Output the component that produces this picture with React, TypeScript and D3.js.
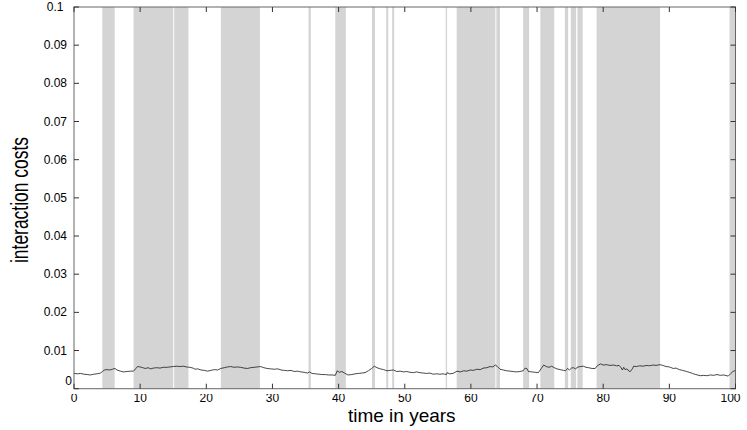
import React from "react";
import { scaleLinear, line, range } from "d3";

// shaded periods [start, end] in years
const bandStarts = [4.28, 9.0, 15.15, 22.2, 35.45, 39.5, 45.05, 47.2, 48.1, 56.2, 57.85, 63.85, 67.9, 70.5, 74.2, 75.1, 76.1, 79.0, 99.1];
const bandEnds = [6.15, 15.0, 17.3, 28.1, 35.8, 41.1, 45.5, 47.5, 48.4, 56.4, 63.7, 64.4, 68.8, 72.6, 74.7, 75.9, 76.9, 88.6, 100];

// interaction costs time series
const times = [
  0, 0.5, 1, 1.5, 2, 2.5, 3, 3.5, 4, 4.3, 4.6, 5, 5.4, 5.8, 6.2, 6.5, 7, 7.5, 8, 8.5,
  9, 9.3, 9.6, 10, 10.4, 10.8, 11.2, 11.6, 12, 12.5, 13, 13.5, 14, 14.5, 15, 15.5, 16, 16.5, 17, 17.5,
  18, 18.3, 18.7, 19.2, 19.7, 20.2, 20.7, 21.2, 21.7, 22.2, 22.7, 23.2, 23.7, 24.2, 24.7, 25.2, 25.7, 26.2, 26.7, 27.2,
  27.7, 28.2, 28.7, 29.2, 29.7, 30.3, 30.8, 31.3, 31.8, 32.3, 32.8, 33.3, 33.8, 34.3, 34.8, 35.3, 35.6, 36, 36.5, 37,
  37.5, 38, 38.5, 39, 39.5, 39.8, 40.1, 40.5, 40.9, 41.4, 42, 42.5, 43, 43.5, 44, 44.5, 45, 45.4, 45.8, 46.3,
  46.8, 47.3, 47.8, 48.3, 48.8, 49.3, 49.8, 50.3, 50.8, 51.3, 51.8, 52.3, 52.8, 53.3, 53.8, 54.3, 54.8, 55.3, 55.8, 56.3,
  56.4, 56.8, 57.3, 57.9, 58.4, 58.9, 59.4, 59.9, 60.4, 60.9, 61.4, 61.9, 62.4, 62.9, 63.3, 63.7, 64, 64.4, 64.9, 65.4,
  65.9, 66.4, 66.9, 67.4, 67.9, 68.2, 68.5, 68.7, 69.2, 69.7, 70.2, 70.6, 71.0, 71.4, 71.8, 72.2, 72.6, 73, 73.5, 74,
  74.3, 74.6, 74.9, 75.2, 75.5, 75.8, 76.2, 76.6, 77, 77.4, 77.8, 78.3, 78.8, 79.1, 79.6, 80, 80.5, 81, 81.6, 82,
  82.4, 82.7, 82.9, 83.1, 83.3, 83.6, 83.9, 84.1, 84.4, 84.6, 85, 85.5, 86, 86.6, 87, 87.5, 88, 88.6, 89, 89.5,
  90, 90.6, 91, 91.5, 92, 92.6, 93, 93.5, 94, 94.7, 95.2, 95.7, 96.2, 96.7, 97.2, 97.7, 98.2, 98.9, 99.3, 99.6, 100,
];
const costs = [
  0.0040, 0.0039, 0.0040, 0.0038, 0.0037, 0.0036, 0.0038, 0.0039, 0.0041, 0.0045, 0.0049, 0.0050, 0.0049, 0.0051, 0.0053, 0.0049, 0.0046, 0.0044, 0.0045, 0.0046,
  0.0046, 0.0052, 0.0058, 0.0057, 0.0055, 0.0053, 0.0055, 0.0052, 0.0054, 0.0055, 0.0054, 0.0056, 0.0056, 0.0057, 0.0058, 0.0059, 0.0058, 0.0059, 0.0057, 0.0056,
  0.0054, 0.0051, 0.0052, 0.0049, 0.0048, 0.0046, 0.0048, 0.0050, 0.0049, 0.0053, 0.0055, 0.0057, 0.0058, 0.0056, 0.0057, 0.0056, 0.0054, 0.0053, 0.0055, 0.0056,
  0.0057, 0.0058, 0.0055, 0.0053, 0.0052, 0.0051, 0.0052, 0.0049, 0.0048, 0.0047, 0.0048, 0.0045, 0.0046, 0.0044, 0.0043, 0.0041, 0.0044, 0.0040, 0.0039, 0.0038,
  0.0037, 0.0037, 0.0036, 0.0036, 0.0035, 0.0047, 0.0043, 0.0045, 0.0041, 0.0036, 0.0037, 0.0039, 0.0040, 0.0041, 0.0042, 0.0047, 0.0053, 0.0059, 0.0055, 0.0052,
  0.0050, 0.0047, 0.0048, 0.0049, 0.0045, 0.0046, 0.0044, 0.0045, 0.0043, 0.0042, 0.0044, 0.0042, 0.0041, 0.0040, 0.0041, 0.0038, 0.0039, 0.0038, 0.0039, 0.0037,
  0.0042, 0.0039, 0.0040, 0.0046, 0.0044, 0.0047, 0.0046, 0.0049, 0.0048, 0.0051, 0.0050, 0.0054, 0.0055, 0.0058, 0.0057, 0.0062, 0.0058, 0.0051, 0.0049, 0.0047,
  0.0046, 0.0045, 0.0044, 0.0045, 0.0047, 0.0054, 0.0052, 0.0045, 0.0044, 0.0043, 0.0042, 0.0052, 0.0062, 0.0058, 0.0056, 0.0059, 0.0055, 0.0052, 0.0050, 0.0048,
  0.0047, 0.0053, 0.0049, 0.0054, 0.0055, 0.0052, 0.0057, 0.0058, 0.0059, 0.0056, 0.0055, 0.0053, 0.0053, 0.0060, 0.0065, 0.0062, 0.0063, 0.0061, 0.0062, 0.0060,
  0.0061, 0.0055, 0.0049, 0.0056, 0.0050, 0.0052, 0.0046, 0.0045, 0.0052, 0.0059, 0.0058, 0.0060, 0.0059, 0.0061, 0.0060, 0.0062, 0.0061, 0.0063, 0.0061, 0.0058,
  0.0057, 0.0053, 0.0054, 0.0050, 0.0048, 0.0045, 0.0043, 0.0040, 0.0037, 0.0034, 0.0035, 0.0034, 0.0036, 0.0035, 0.0037, 0.0035, 0.0036, 0.0033, 0.0040, 0.0045, 0.0048,
];

const xTicks = range(0, 101, 10);
const yTicks = range(0, 0.1001, 0.01);

const W = 747;
const H = 430;
const left = 74;
const right = 735.5;
const top = 7;
const bottom = 388.7;

export default function App() {
  const x = scaleLinear().domain([0, 100]).range([left, right]);
  const y = scaleLinear().domain([0, 0.1]).range([bottom, top]);

  const points = times.map((t, i) => [t, costs[i]] as [number, number]);
  const path = line<[number, number]>()
    .x((d) => x(d[0]))
    .y((d) => y(d[1]))(points);

  const font = "'Liberation Sans', Arial, sans-serif";
  const fmtY = (v: number) => (v === 0 ? "0" : String(+v.toFixed(2)));

  return (
    <svg
      width={W}
      height={H}
      style={{ position: "absolute", left: 0, top: 0, background: "#fff" }}
    >
      <defs>
        <clipPath id="xlab">
          <rect x={0} y={394} width={W} height={11} />
        </clipPath>
      </defs>

      {/* shaded periods */}
      {bandStarts.map((s, i) => (
        <rect
          key={i}
          x={x(s)}
          y={top}
          width={x(bandEnds[i]) - x(s)}
          height={bottom - top}
          fill="#d4d4d4"
        />
      ))}

      {/* series */}
      <path d={path || ""} fill="none" stroke="#1a1a1a" strokeWidth={0.8} />

      {/* frame */}
      <rect
        x={left}
        y={top}
        width={right - left}
        height={bottom - top}
        fill="none"
        stroke="#666"
        strokeWidth={1}
      />

      {/* x ticks */}
      {xTicks.map((t) => (
        <g key={"x" + t}>
          <line x1={x(t)} x2={x(t)} y1={bottom} y2={bottom - 5} stroke="#333" />
          <line x1={x(t)} x2={x(t)} y1={top} y2={top + 5} stroke="#333" />
        </g>
      ))}
      <g clipPath="url(#xlab)">
        {xTicks.map((t) => (
          <text
            key={"xl" + t}
            x={t === 100 ? x(t) - 5 : x(t)}
            y={402}
            textAnchor="middle"
            fontFamily={font}
            fontSize={12}
            fill="#000"
          >
            {t}
          </text>
        ))}
      </g>

      {/* y ticks */}
      {yTicks.map((v, i) => (
        <g key={"y" + i}>
          <line x1={left} x2={left + 5} y1={y(v)} y2={y(v)} stroke="#333" />
          <line x1={right} x2={right - 5} y1={y(v)} y2={y(v)} stroke="#333" />
          <text
            x={i === 0 ? 72 : i === 10 ? 63.5 : 67}
            y={i === 0 ? y(v) - 4 : y(v) + 4}
            textAnchor="end"
            fontFamily={font}
            fontSize={12}
            fill="#000"
          >
            {fmtY(v)}
          </text>
        </g>
      ))}

      {/* axis titles */}
      <text
        x={(left + right) / 2 - 3}
        y={422}
        textAnchor="middle"
        fontFamily={font}
        fontSize={19}
        fill="#000"
      >
        time in years
      </text>
      <text
        transform={`translate(28, ${200}) rotate(-90)`}
        textAnchor="middle"
        fontFamily={font}
        fontSize={23}
        textLength={126}
        lengthAdjust="spacingAndGlyphs"
        fill="#000"
      >
        interaction costs
      </text>
    </svg>
  );
}
